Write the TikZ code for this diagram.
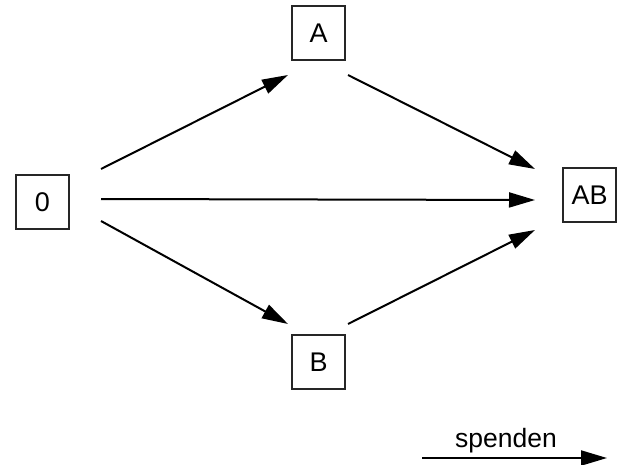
\documentclass[tikz,border=0pt]{standalone}
\usepackage{fontspec}
\setmainfont{Liberation Sans}
\usetikzlibrary{arrows.meta}
\begin{document}
\begin{tikzpicture}[x=1pt,y=-1pt,
  box/.style={draw=black!85, line width=2pt, minimum width=53pt, minimum height=54pt, inner sep=0pt, font=\fontsize{27}{27}\selectfont},
  arr/.style={line width=2pt, -{Triangle[length=26pt,width=15pt]}},
  lbl/.style={inner sep=0pt, font=\fontsize{26.5}{26.5}\selectfont}]
\useasboundingbox[fill=white] (0,0) rectangle (620,465);
\node[box] (n0) at (42.5,202) {0};
\node[box] (a) at (318.5,33) {A};
\node[box] (b) at (318.5,362) {B};
\node[box] (ab) at (589.5,195) {AB};
\draw[arr] ([xshift=31pt,yshift=33pt]n0.east) -- ([xshift=-30.5pt,yshift=-14pt]a.south);
\draw[arr] ([xshift=31pt,yshift=3pt]n0.east) -- ([xshift=-27pt,yshift=-5pt]ab.west);
\draw[arr] ([xshift=31pt,yshift=-19pt]n0.east) -- ([xshift=-30.5pt,yshift=10pt]b.north);
\draw[arr] ([xshift=29.5pt,yshift=-14pt]a.south) -- ([xshift=-27pt,yshift=26pt]ab.west);
\draw[arr] ([xshift=29.5pt,yshift=10pt]b.north) -- ([xshift=-27pt,yshift=-35pt]ab.west);
\coordinate (s1) at (422,458);
\coordinate (s2) at (607,458);
\draw[arr] (s1) -- (s2);
\node[lbl, anchor=base] (sp) at (506,447) {spenden};
\end{tikzpicture}
\end{document}
